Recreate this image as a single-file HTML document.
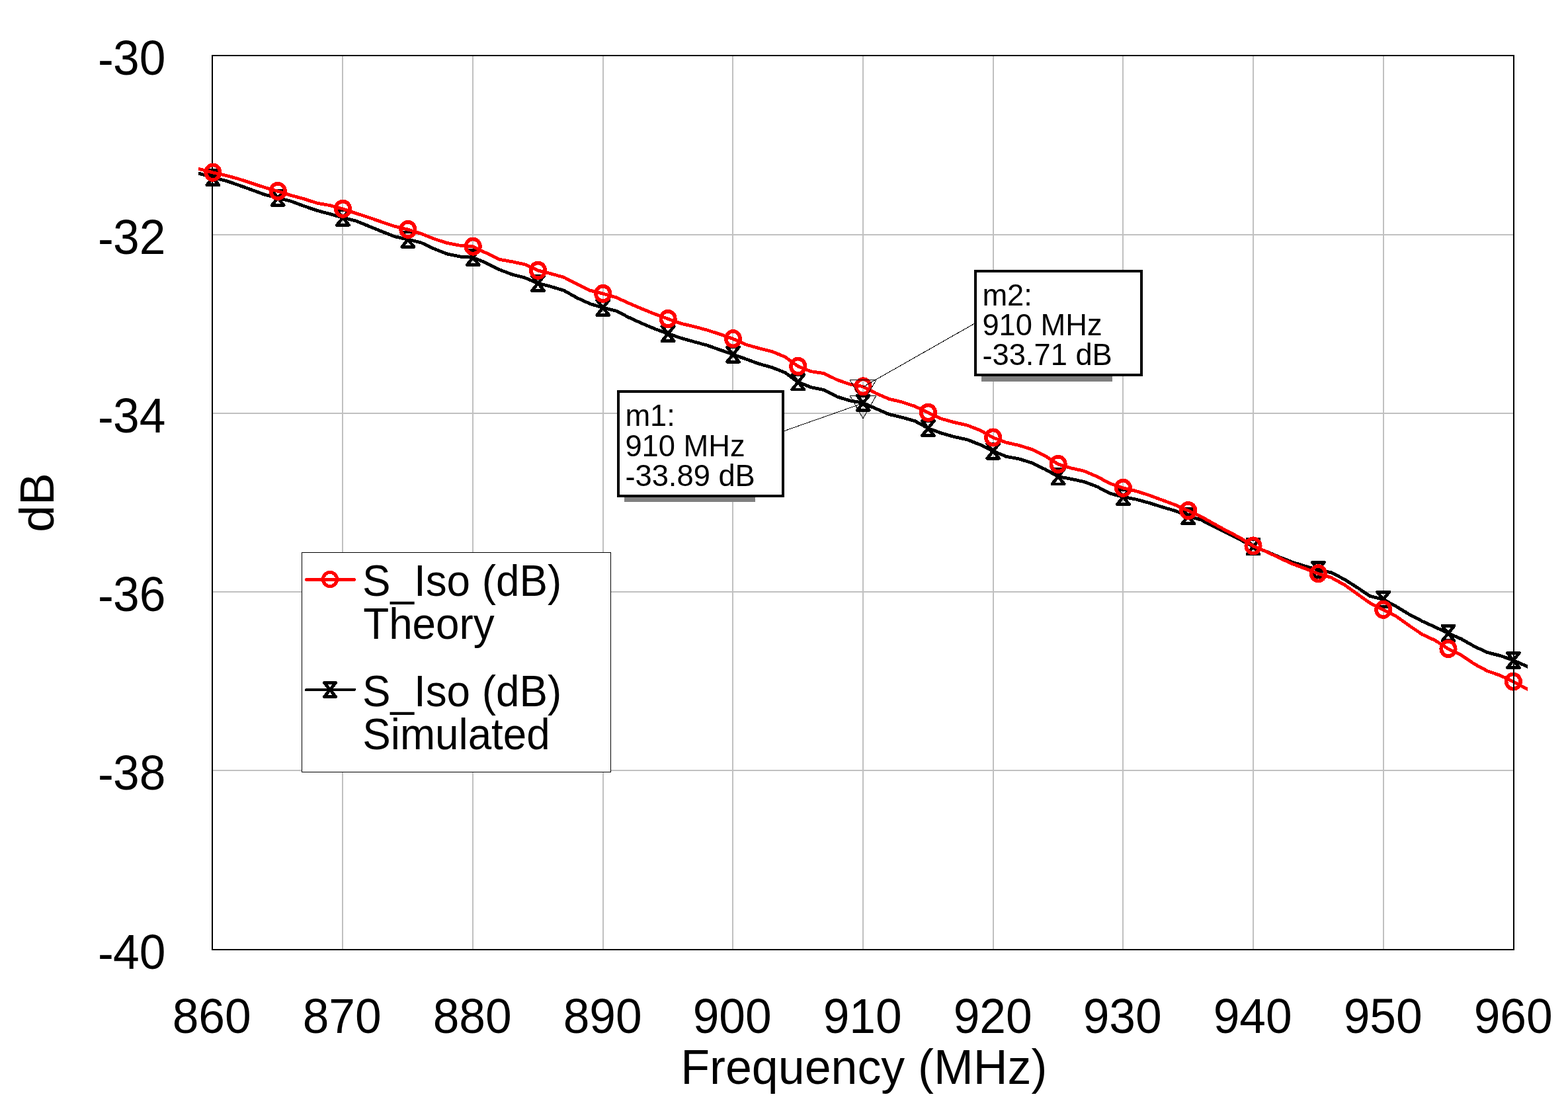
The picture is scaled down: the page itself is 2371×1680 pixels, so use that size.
<!DOCTYPE html>
<html lang="en"><head><meta charset="utf-8"><title>S_Iso (dB) vs Frequency (MHz)</title>
<style>
html,body{margin:0;padding:0;background:#fff;}
body{width:2371px;height:1680px;overflow:hidden;}
svg{display:block;}
text{font-family:"Liberation Sans",Arial,Helvetica,sans-serif;fill:#000;}
.ax{font-size:74.2px;}
.lg{font-size:67.2px;}
.mk{font-size:45.3px;}
</style></head><body>
<svg xmlns="http://www.w3.org/2000/svg" width="2371" height="1680" viewBox="0 0 2371 1680">
<rect x="0" y="0" width="2371" height="1680" fill="#fff"/>
<g fill="#c0c0c0" shape-rendering="crispEdges">
<rect x="517" y="85" width="2" height="1350"/>
<rect x="714" y="85" width="2" height="1350"/>
<rect x="911" y="85" width="2" height="1350"/>
<rect x="1107" y="85" width="2" height="1350"/>
<rect x="1304" y="85" width="2" height="1350"/>
<rect x="1501" y="85" width="2" height="1350"/>
<rect x="1697" y="85" width="2" height="1350"/>
<rect x="1894" y="85" width="2" height="1350"/>
<rect x="2091" y="85" width="2" height="1350"/>
<rect x="322" y="354" width="1966" height="2"/>
<rect x="322" y="624" width="1966" height="2"/>
<rect x="322" y="894" width="1966" height="2"/>
<rect x="322" y="1164" width="1966" height="2"/>
</g>
<rect x="321.0" y="84.0" width="1968.0" height="1352.0" fill="none" stroke="#000" stroke-width="2" shape-rendering="crispEdges"/>
<text class="ax" transform="translate(0,112.8) scale(0.962,1)"><tspan x="153.74" y="1.8">-</tspan><tspan x="260.40" y="0" text-anchor="end">30</tspan></text>
<text class="ax" transform="translate(0,383.8) scale(0.962,1)"><tspan x="153.74" y="1.8">-</tspan><tspan x="260.40" y="0" text-anchor="end">32</tspan></text>
<text class="ax" transform="translate(0,653.8) scale(0.962,1)"><tspan x="153.74" y="1.8">-</tspan><tspan x="260.40" y="0" text-anchor="end">34</tspan></text>
<text class="ax" transform="translate(0,923.8) scale(0.962,1)"><tspan x="153.74" y="1.8">-</tspan><tspan x="260.40" y="0" text-anchor="end">36</tspan></text>
<text class="ax" transform="translate(0,1193.8) scale(0.962,1)"><tspan x="153.74" y="1.8">-</tspan><tspan x="260.40" y="0" text-anchor="end">38</tspan></text>
<text class="ax" transform="translate(0,1464.8) scale(0.962,1)"><tspan x="153.74" y="1.8">-</tspan><tspan x="260.40" y="0" text-anchor="end">40</tspan></text>
<text class="ax" text-anchor="middle" transform="translate(320.20,1562.20) scale(0.962,1)">860</text>
<text class="ax" text-anchor="middle" transform="translate(517.20,1562.20) scale(0.962,1)">870</text>
<text class="ax" text-anchor="middle" transform="translate(714.20,1562.20) scale(0.962,1)">880</text>
<text class="ax" text-anchor="middle" transform="translate(911.20,1562.20) scale(0.962,1)">890</text>
<text class="ax" text-anchor="middle" transform="translate(1107.20,1562.20) scale(0.962,1)">900</text>
<text class="ax" text-anchor="middle" transform="translate(1304.20,1562.20) scale(0.962,1)">910</text>
<text class="ax" text-anchor="middle" transform="translate(1501.20,1562.20) scale(0.962,1)">920</text>
<text class="ax" text-anchor="middle" transform="translate(1697.20,1562.20) scale(0.962,1)">930</text>
<text class="ax" text-anchor="middle" transform="translate(1894.20,1562.20) scale(0.962,1)">940</text>
<text class="ax" text-anchor="middle" transform="translate(2091.20,1562.20) scale(0.962,1)">950</text>
<text class="ax" text-anchor="middle" transform="translate(2288.20,1562.20) scale(0.962,1)">960</text>
<text class="ax" text-anchor="middle" transform="translate(1306.30,1638.90) scale(0.967,1)">Frequency (MHz)</text>
<text class="ax" text-anchor="middle" transform="translate(81.3,759.9) scale(0.965,1) rotate(-90) scale(0.987,1)">dB</text>
<defs><clipPath id="cc"><rect x="300" y="0" width="2010" height="1680"/></clipPath></defs>
<g fill="none" stroke="#000" stroke-width="4.9" stroke-linejoin="round" clip-path="url(#cc)" shape-rendering="crispEdges">
<path d="M282.6,256.6 L302.2,262.6 L321.9,268.6 L341.6,273.3 L361.2,280.1 L380.9,287.2 L400.6,294.4 L420.2,299.3 L439.9,304.2 L459.5,311.5 L479.2,318.3 L498.9,323.6 L518.5,329.2 L538.2,334.0 L557.9,342.1 L577.5,350.1 L597.2,357.8 L616.9,362.2 L636.5,366.8 L656.2,376.1 L675.9,383.9 L695.5,388.0 L715.2,389.4 L734.8,397.4 L754.5,407.5 L774.2,414.9 L793.8,420.1 L813.5,428.4 L833.2,433.4 L852.8,439.3 L872.5,450.4 L892.2,459.4 L911.8,465.3 L931.5,470.1 L951.1,480.1 L970.8,489.1 L990.5,497.4 L1010.1,504.6 L1029.8,511.2 L1049.5,516.8 L1069.1,522.1 L1088.8,529.1 L1108.5,536.0 L1128.1,543.0 L1147.8,550.2 L1167.5,555.7 L1187.1,563.4 L1206.8,577.8 L1226.4,585.7 L1246.1,589.6 L1265.8,599.9 L1285.4,605.9 L1305.1,609.3 L1324.8,618.1 L1344.4,626.5 L1364.1,631.2 L1383.8,636.8 L1403.4,647.6 L1423.1,654.9 L1442.7,660.5 L1462.4,664.7 L1482.1,672.5 L1501.7,682.1 L1521.4,690.3 L1541.1,694.0 L1560.7,700.1 L1580.4,709.7 L1600.1,720.7 L1619.7,724.3 L1639.4,728.5 L1659.1,736.0 L1678.7,746.2 L1698.4,751.4 L1718.0,755.1 L1737.7,760.5 L1757.4,766.7 L1777.0,772.4 L1796.7,780.5 L1816.4,786.1 L1836.0,796.5 L1855.7,806.3 L1875.4,816.1 L1895.0,826.6 L1914.7,833.9 L1934.3,842.3 L1954.0,850.0 L1973.7,856.3 L1993.3,861.5 L2013.0,865.9 L2032.7,875.9 L2052.3,888.4 L2072.0,901.6 L2091.7,906.5 L2111.3,917.1 L2131.0,929.1 L2150.7,939.4 L2170.3,948.3 L2190.0,957.6 L2209.6,966.2 L2229.3,977.4 L2249.0,986.6 L2268.6,991.5 L2288.3,998.5 L2308.0,1007.2 L2327.6,1015.9"/>
</g>
<g fill="none" stroke="#000" stroke-width="4.8" stroke-linejoin="round" shape-rendering="crispEdges">
<path d="M312.8,257.4 L331.0,257.4 L312.8,279.8 L331.0,279.8 Z"/>
<path d="M411.1,288.1 L429.3,288.1 L411.1,310.5 L429.3,310.5 Z"/>
<path d="M509.4,318.0 L527.6,318.0 L509.4,340.4 L527.6,340.4 Z"/>
<path d="M607.8,351.0 L626.0,351.0 L607.8,373.4 L626.0,373.4 Z"/>
<path d="M706.1,378.2 L724.3,378.2 L706.1,400.6 L724.3,400.6 Z"/>
<path d="M804.4,417.2 L822.6,417.2 L804.4,439.6 L822.6,439.6 Z"/>
<path d="M902.7,454.1 L920.9,454.1 L902.7,476.5 L920.9,476.5 Z"/>
<path d="M1001.0,493.4 L1019.2,493.4 L1001.0,515.8 L1019.2,515.8 Z"/>
<path d="M1099.4,524.8 L1117.6,524.8 L1099.4,547.2 L1117.6,547.2 Z"/>
<path d="M1197.7,566.6 L1215.9,566.6 L1197.7,589.0 L1215.9,589.0 Z"/>
<path d="M1296.0,598.1 L1314.2,598.1 L1296.0,620.5 L1314.2,620.5 Z"/>
<path d="M1394.3,636.4 L1412.5,636.4 L1394.3,658.8 L1412.5,658.8 Z"/>
<path d="M1492.6,670.9 L1510.8,670.9 L1492.6,693.3 L1510.8,693.3 Z"/>
<path d="M1591.0,709.5 L1609.2,709.5 L1591.0,731.9 L1609.2,731.9 Z"/>
<path d="M1689.3,740.2 L1707.5,740.2 L1689.3,762.6 L1707.5,762.6 Z"/>
<path d="M1787.6,769.3 L1805.8,769.3 L1787.6,791.7 L1805.8,791.7 Z"/>
<path d="M1885.9,815.4 L1904.1,815.4 L1885.9,837.8 L1904.1,837.8 Z"/>
<path d="M1984.2,850.3 L2002.4,850.3 L1984.2,872.7 L2002.4,872.7 Z"/>
<path d="M2082.6,895.3 L2100.8,895.3 L2082.6,917.7 L2100.8,917.7 Z"/>
<path d="M2180.9,946.4 L2199.1,946.4 L2180.9,968.8 L2199.1,968.8 Z"/>
<path d="M2279.2,987.3 L2297.4,987.3 L2279.2,1009.8 L2297.4,1009.8 Z"/>
</g>
<g fill="none" stroke="#f00" stroke-width="4.9" stroke-linejoin="round" clip-path="url(#cc)" shape-rendering="crispEdges">
<path d="M282.6,250.7 L302.2,255.8 L321.9,260.9 L341.6,265.3 L361.2,270.7 L380.9,277.1 L400.6,283.6 L420.2,289.2 L439.9,295.4 L459.5,300.7 L479.2,307.1 L498.9,310.6 L518.5,315.9 L538.2,322.6 L557.9,328.9 L577.5,335.8 L597.2,342.4 L616.9,347.1 L636.5,353.2 L656.2,361.1 L675.9,367.4 L695.5,371.2 L715.2,372.8 L734.8,382.4 L754.5,392.2 L774.2,395.7 L793.8,399.9 L813.5,409.0 L833.2,413.9 L852.8,419.4 L872.5,429.4 L892.2,439.2 L911.8,444.1 L931.5,449.7 L951.1,458.6 L970.8,467.0 L990.5,475.0 L1010.1,482.2 L1029.8,489.2 L1049.5,493.8 L1069.1,499.1 L1088.8,505.4 L1108.5,512.4 L1128.1,521.1 L1147.8,526.7 L1167.5,531.6 L1187.1,539.7 L1206.8,554.0 L1226.4,561.7 L1246.1,564.6 L1265.8,574.4 L1285.4,581.2 L1305.1,584.6 L1324.8,594.9 L1344.4,603.3 L1364.1,608.0 L1383.8,614.5 L1403.4,623.9 L1423.1,633.1 L1442.7,638.6 L1462.4,643.0 L1482.1,650.7 L1501.7,661.7 L1521.4,669.1 L1541.1,673.5 L1560.7,679.7 L1580.4,689.4 L1600.1,702.0 L1619.7,707.9 L1639.4,712.3 L1659.1,720.8 L1678.7,731.2 L1698.4,738.0 L1718.0,742.6 L1737.7,748.9 L1757.4,756.2 L1777.0,763.5 L1796.7,772.2 L1816.4,781.3 L1836.0,792.3 L1855.7,803.2 L1875.4,813.3 L1895.0,825.7 L1914.7,834.0 L1934.3,843.5 L1954.0,852.6 L1973.7,859.8 L1993.3,867.5 L2013.0,873.4 L2032.7,884.2 L2052.3,898.2 L2072.0,912.1 L2091.7,922.0 L2111.3,932.0 L2131.0,946.1 L2150.7,959.4 L2170.3,968.5 L2190.0,981.2 L2209.6,990.7 L2229.3,1004.0 L2249.0,1014.6 L2268.6,1021.4 L2288.3,1030.8 L2308.0,1041.2 L2327.6,1051.6"/>
</g>
<g fill="none" stroke="#f00" stroke-width="5.7" shape-rendering="crispEdges">
<ellipse cx="321.9" cy="260.7" rx="10.7" ry="11.2"/>
<ellipse cx="420.2" cy="289.0" rx="10.7" ry="11.2"/>
<ellipse cx="518.5" cy="315.7" rx="10.7" ry="11.2"/>
<ellipse cx="616.9" cy="346.9" rx="10.7" ry="11.2"/>
<ellipse cx="715.2" cy="372.6" rx="10.7" ry="11.2"/>
<ellipse cx="813.5" cy="408.8" rx="10.7" ry="11.2"/>
<ellipse cx="911.8" cy="443.9" rx="10.7" ry="11.2"/>
<ellipse cx="1010.1" cy="482.0" rx="10.7" ry="11.2"/>
<ellipse cx="1108.5" cy="512.2" rx="10.7" ry="11.2"/>
<ellipse cx="1206.8" cy="553.8" rx="10.7" ry="11.2"/>
<ellipse cx="1305.1" cy="584.4" rx="10.7" ry="11.2"/>
<ellipse cx="1403.4" cy="623.7" rx="10.7" ry="11.2"/>
<ellipse cx="1501.7" cy="661.5" rx="10.7" ry="11.2"/>
<ellipse cx="1600.1" cy="701.8" rx="10.7" ry="11.2"/>
<ellipse cx="1698.4" cy="737.8" rx="10.7" ry="11.2"/>
<ellipse cx="1796.7" cy="772.0" rx="10.7" ry="11.2"/>
<ellipse cx="1895.0" cy="825.5" rx="10.7" ry="11.2"/>
<ellipse cx="1993.3" cy="867.3" rx="10.7" ry="11.2"/>
<ellipse cx="2091.7" cy="921.8" rx="10.7" ry="11.2"/>
<ellipse cx="2190.0" cy="981.0" rx="10.7" ry="11.2"/>
<ellipse cx="2288.3" cy="1030.6" rx="10.7" ry="11.2"/>
</g>
<rect x="456.5" y="835.5" width="467" height="332" fill="#fff" stroke="#000" stroke-width="1" shape-rendering="crispEdges"/>
<g fill="none" stroke="#f00" stroke-width="5.2" stroke-linecap="round" shape-rendering="crispEdges"><line x1="463.5" y1="876.5" x2="535.5" y2="876.5"/><circle cx="499" cy="876" r="10.6"/></g>
<g fill="none" stroke="#000" stroke-width="4" stroke-linejoin="round" shape-rendering="crispEdges"><line x1="463" y1="1043" x2="536" y2="1043" stroke-linecap="round"/>
<path stroke-width="4.8" d="M490.3,1032.4 L507.7,1032.4 L490.3,1053.6 L507.7,1053.6 Z"/></g>
<text class="lg" transform="translate(548.00,901.30) scale(0.949,1)">S_Iso (dB)</text>
<text class="lg" transform="translate(549.20,966.20) scale(0.949,1)">Theory</text>
<text class="lg" transform="translate(548.00,1067.60) scale(0.949,1)">S_Iso (dB)</text>
<text class="lg" transform="translate(548.20,1132.50) scale(0.949,1)">Simulated</text>
<rect x="2288" y="83" width="2" height="1354" fill="#000" shape-rendering="crispEdges"/>
<g fill="none" stroke="#000" stroke-width="1" shape-rendering="crispEdges">
<path d="M1285.2,574.6 L1324.8,574.6 L1305.0,608.8 Z"/>
<path d="M1285.2,598.5 L1324.8,598.5 L1305.0,632.7 Z"/>
<line x1="1305" y1="585.1" x2="1473.5" y2="489.3"/>
<line x1="1303.5" y1="610.2" x2="1186" y2="651.6"/>
</g>
<rect x="1484" y="569" width="198" height="8" fill="#808080" shape-rendering="crispEdges"/>
<rect x="1475" y="410" width="251" height="157" fill="#fff" stroke="#000" stroke-width="4" shape-rendering="crispEdges"/>
<g class="mk">
<text x="1485.4" y="462.2">m2:</text>
<text x="1485.4" y="507.3">910 MHz</text>
<text x="1485.4" y="552.4"><tspan dy="1.6">-</tspan><tspan dy="-1.6">33.71 dB</tspan></text>
</g>
<rect x="944" y="752" width="198" height="7" fill="#808080" shape-rendering="crispEdges"/>
<rect x="935" y="592" width="249" height="158" fill="#fff" stroke="#000" stroke-width="4" shape-rendering="crispEdges"/>
<g class="mk">
<text x="945.4" y="644.2">m1:</text>
<text x="945.4" y="690.2">910 MHz</text>
<text x="945.4" y="735.3"><tspan dy="1.6">-</tspan><tspan dy="-1.6">33.89 dB</tspan></text>
</g>
</svg>
</body></html>
